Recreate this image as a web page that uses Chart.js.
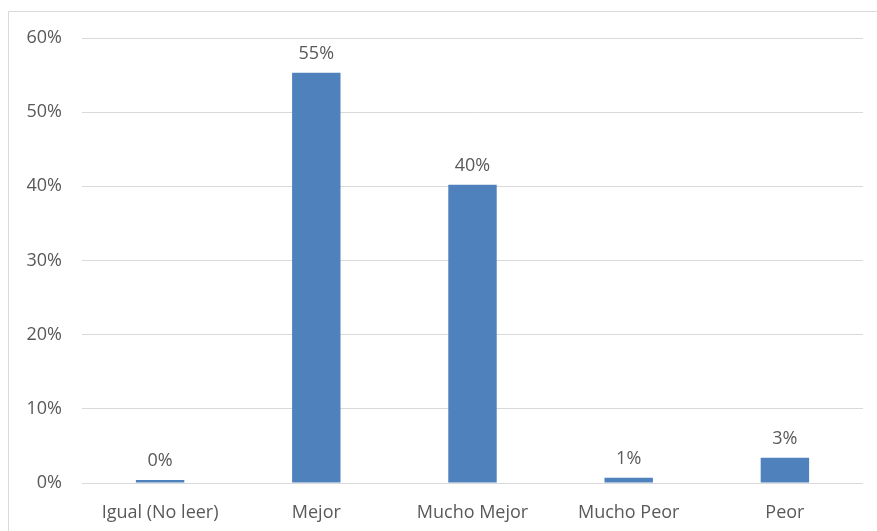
<!DOCTYPE html>
<html>
<head>
<meta charset="utf-8">
<script src="https://cdn.jsdelivr.net/npm/chart.js@4"></script>
<style>
  html, body { margin: 0; padding: 0; background: #fff; }
  #wrap { width: 877px; height: 531px; position: relative; }
</style>
</head>
<body>
<div id="wrap"><canvas id="chart"></canvas></div>
<script>
const categories = ['Igual (No leer)', 'Mejor', 'Mucho Mejor', 'Mucho Peor', 'Peor'];
const shares = [0.4, 55.3, 40.2, 0.7, 3.4];
const yTicks = [0, 10, 20, 30, 40, 50, 60];

const textColor = '#595959';
const gridColor = '#d9d9d9';
const fontFamily = '"Open Sans", "Liberation Sans", sans-serif';
const fontSize = 18;

// outer frame (top and left edges only, the rest runs off the canvas)
const framePlugin = {
  id: 'frame',
  beforeDraw(chart) {
    const ctx = chart.ctx;
    ctx.save();
    ctx.strokeStyle = gridColor;
    ctx.lineWidth = 1;
    ctx.beginPath();
    ctx.moveTo(8.5, chart.height);
    ctx.lineTo(8.5, 11.5);
    ctx.lineTo(chart.width, 11.5);
    ctx.stroke();
    ctx.restore();
  }
};

// value labels above each bar
const valueLabels = {
  id: 'valueLabels',
  afterDatasetsDraw(chart) {
    const ctx = chart.ctx;
    const meta = chart.getDatasetMeta(0);
    ctx.save();
    ctx.fillStyle = textColor;
    ctx.font = fontSize + 'px ' + fontFamily;
    ctx.textAlign = 'center';
    ctx.textBaseline = 'middle';
    meta.data.forEach((bar, i) => {
      ctx.fillText(Math.round(shares[i]) + '%', bar.x, bar.y - 19);
    });
    ctx.restore();
  }
};

new Chart(document.getElementById('chart'), {
  type: 'bar',
  data: {
    labels: categories,
    datasets: [{
      data: shares,
      backgroundColor: '#4f81bd',
      borderWidth: 0,
      barPercentage: 0.31,
      categoryPercentage: 1
    }]
  },
  options: {
    responsive: true,
    maintainAspectRatio: false,
    animation: false,
    layout: { padding: { left: 0, right: 14, top: 38, bottom: 0 } },
    plugins: {
      legend: { display: false },
      tooltip: { enabled: false }
    },
    scales: {
      x: {
        grid: { display: false },
        border: { display: false },
        ticks: { color: textColor, font: { size: fontSize, family: fontFamily }, padding: 11 },
        afterFit(scale) { scale.height = 48; }
      },
      y: {
        min: yTicks[0],
        max: yTicks[yTicks.length - 1],
        afterBuildTicks(scale) { scale.ticks = yTicks.map(v => ({ value: v })); },
        grid: { color: gridColor, lineWidth: 1, drawTicks: false },
        border: { display: false },
        ticks: {
          color: textColor,
          font: { size: fontSize, family: fontFamily },
          padding: 20,
          callback: v => v + '%'
        },
        afterFit(scale) { scale.width = 82; }
      }
    }
  },
  plugins: [framePlugin, valueLabels]
});
</script>
</body>
</html>
